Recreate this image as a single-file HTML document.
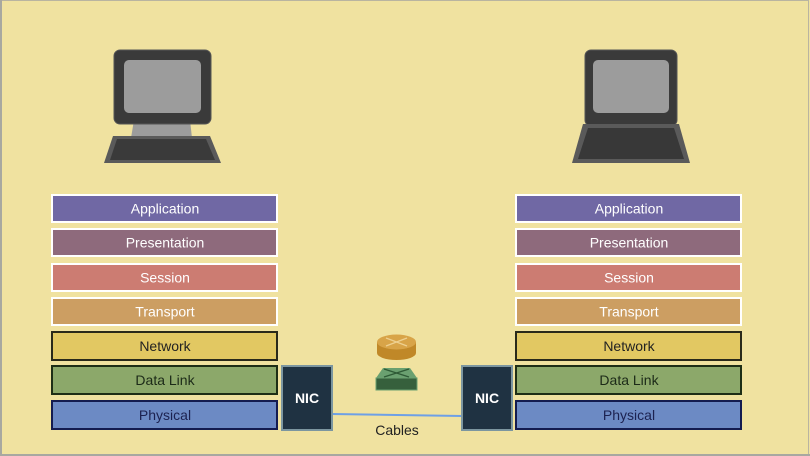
<!DOCTYPE html>
<html><head><meta charset="utf-8"><style>
html,body{margin:0;padding:0;background:#f0e2a0;}
svg{display:block;font-family:"Liberation Sans",sans-serif;}
</style></head><body>
<svg width="810" height="456" viewBox="0 0 810 456" xmlns="http://www.w3.org/2000/svg">
<rect x="0" y="0" width="810" height="456" fill="#f0e2a0"/>
<rect x="0.5" y="0.5" width="808" height="454" fill="none" stroke="#b9b4a0" stroke-width="1"/>
<rect x="0" y="0" width="2" height="456" fill="#a8a8a0"/>
<rect x="0" y="454" width="810" height="2" fill="#a8a8a0"/>

<!-- desktop -->
<polygon points="134,120 190,120 192,138 131,138" fill="#9c9c9c"/>
<rect x="114" y="50" width="97" height="74" rx="6" fill="#3a3a3a" stroke="#555" stroke-width="1"/>
<rect x="124" y="60" width="77" height="53" rx="5" fill="#9c9c9c"/>
<polygon points="113,136 210,136 221,163 104,163" fill="#5a5a5a"/>
<polygon points="117,139 206,139 215,160 110,160" fill="#3a3a3a"/>

<!-- laptop -->
<rect x="585" y="50" width="92" height="76" rx="6" fill="#3a3a3a" stroke="#555" stroke-width="1"/>
<rect x="593" y="60" width="76" height="53" rx="5" fill="#9c9c9c"/>
<polygon points="583,124 679,124 690,163 572,163" fill="#5a5a5a"/>
<polygon points="588,128 674,128 684,159 578,159" fill="#383838"/>

<!-- left stack -->
<g font-size="14" text-anchor="middle">
<rect x="52" y="195" width="225" height="27" fill="#7068a4" stroke="#fff" stroke-width="2"/>
<text x="165" y="213.5" fill="#fff">Application</text>
<rect x="52" y="229" width="225" height="27" fill="#8e6a7c" stroke="#fff" stroke-width="2"/>
<text x="165" y="247.5" fill="#fff">Presentation</text>
<rect x="52" y="264" width="225" height="27" fill="#cc7c72" stroke="#fff" stroke-width="2"/>
<text x="165" y="282.5" fill="#fff">Session</text>
<rect x="52" y="298" width="225" height="27" fill="#cc9e62" stroke="#fff" stroke-width="2"/>
<text x="165" y="316.5" fill="#fff">Transport</text>
<rect x="52" y="332" width="225" height="28" fill="#e2c862" stroke="#2a2a1a" stroke-width="2"/>
<text x="165" y="351" fill="#222">Network</text>
<rect x="52" y="366" width="225" height="28" fill="#8ca86a" stroke="#1e2e16" stroke-width="2"/>
<text x="165" y="385" fill="#1c2a18">Data Link</text>
<rect x="52" y="401" width="225" height="28" fill="#6c8ac4" stroke="#141c50" stroke-width="2"/>
<text x="165" y="420" fill="#1c2250">Physical</text>

<!-- right stack -->
<rect x="516" y="195" width="225" height="27" fill="#7068a4" stroke="#fff" stroke-width="2"/>
<text x="629" y="213.5" fill="#fff">Application</text>
<rect x="516" y="229" width="225" height="27" fill="#8e6a7c" stroke="#fff" stroke-width="2"/>
<text x="629" y="247.5" fill="#fff">Presentation</text>
<rect x="516" y="264" width="225" height="27" fill="#cc7c72" stroke="#fff" stroke-width="2"/>
<text x="629" y="282.5" fill="#fff">Session</text>
<rect x="516" y="298" width="225" height="27" fill="#cc9e62" stroke="#fff" stroke-width="2"/>
<text x="629" y="316.5" fill="#fff">Transport</text>
<rect x="516" y="332" width="225" height="28" fill="#e2c862" stroke="#2a2a1a" stroke-width="2"/>
<text x="629" y="351" fill="#222">Network</text>
<rect x="516" y="366" width="225" height="28" fill="#8ca86a" stroke="#1e2e16" stroke-width="2"/>
<text x="629" y="385" fill="#1c2a18">Data Link</text>
<rect x="516" y="401" width="225" height="28" fill="#6c8ac4" stroke="#141c50" stroke-width="2"/>
<text x="629" y="420" fill="#1c2250">Physical</text>
</g>

<!-- cable -->
<line x1="332" y1="414" x2="462" y2="416" stroke="#6ea0e6" stroke-width="2"/>
<text x="397" y="435" font-size="14" text-anchor="middle" fill="#222">Cables</text>

<!-- NICs -->
<rect x="282" y="366" width="50" height="64" fill="#1f3242" stroke="#7c96a0" stroke-width="2"/>
<text x="307" y="403" font-size="14" font-weight="bold" fill="#fff" text-anchor="middle">NIC</text>
<rect x="462" y="366" width="50" height="64" fill="#1f3242" stroke="#7c96a0" stroke-width="2"/>
<text x="487" y="403" font-size="14" font-weight="bold" fill="#fff" text-anchor="middle">NIC</text>

<!-- router -->
<path d="M377,342 L377,353 A19.5,7 0 0 0 416,353 L416,342 Z" fill="#c08828"/>
<ellipse cx="396.5" cy="342" rx="19.5" ry="7.5" fill="#d8a448"/>
<line x1="386" y1="338" x2="407" y2="346" stroke="#eed090" stroke-width="1.3"/>
<line x1="386" y1="346" x2="407" y2="338" stroke="#eed090" stroke-width="1.3"/>

<!-- switch -->
<polygon points="383,368 410,368 417,378 376,378" fill="#6aa070"/>
<rect x="376" y="378" width="41" height="12" fill="#36603c" stroke="#6aa070" stroke-width="1"/>
<line x1="384" y1="369" x2="409" y2="377" stroke="#2e5a36" stroke-width="1.3"/>
<line x1="384" y1="377" x2="409" y2="369" stroke="#2e5a36" stroke-width="1.3"/>
</svg>
</body></html>
